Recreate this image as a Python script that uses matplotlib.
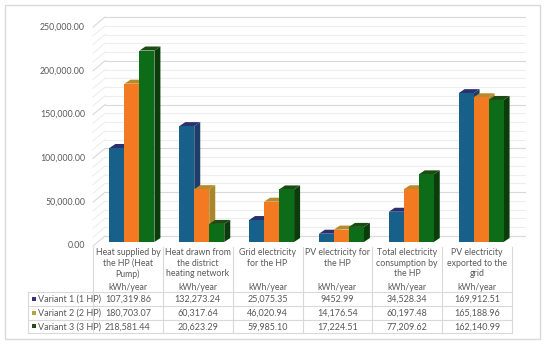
import matplotlib.pyplot as plt
from matplotlib.patches import Polygon, Rectangle

plt.rcParams['font.family'] = ['Lato', 'DejaVu Sans']

categories = ["Heat supplied by\nthe HP (Heat\nPump)",
              "Heat drawn from\nthe district\nheating network",
              "Grid electricity\nfor the HP",
              "PV electricity for\nthe HP",
              "Total electricity\nconsumption by\nthe HP",
              "PV electricity\nexported to the\ngrid"]
unit = "kWh/year"
series_names = ["Variant 1 (1 HP)", "Variant 2 (2 HP)", "Variant 3 (3 HP)"]
variant1 = [107319.86, 132273.24, 25075.35, 9452.99, 34528.34, 169912.51]
variant2 = [180703.07, 60317.64, 46020.94, 14176.54, 60197.48, 165188.96]
variant3 = [218581.44, 20623.29, 59985.10, 17224.51, 77209.62, 162140.99]
yticks = [0, 50000, 100000, 150000, 200000, 250000]

series = [variant1, variant2, variant3]
front_col = ['#176089', '#f47a22', '#0c6c18']
side_col = ['#1f3d6b', '#a8862a', '#0a3d0b']
top_col = ['#2b306e', '#b98a2c', '#1c4b14']
key_col = ['#3d2e7a', '#b8a33a', '#2a4a1e']
txt = '#595959'
grid_major = '#d9d9d9'
grid_minor = '#eeeeee'

W, H = 550, 347
fig = plt.figure(figsize=(5.5, 3.47), dpi=100)

# pixel scale of the plot
px_cat = (512 - 93) / 6.0
px_val = 0.876 / 1000.0
zero_px = 242
ax_bot, ax_top = 250, 10
ax = fig.add_axes([93 / W, 1 - ax_bot / H, (512 - 93) / W, (ax_bot - ax_top) / H])
ax.set_xlim(-0.5, 5.5)
ax.set_ylim(-(ax_bot - zero_px) / px_val, (zero_px - ax_top) / px_val)
ax.axis('off')

def dxp(p):
    return p / px_cat

def dyp(p):
    return p / px_val

# back wall, left wall gridlines (3D look)
back_x0, back_x1 = -0.5 + dxp(12), 5.5 + dxp(13)
back_dy, front_dy = dyp(6), dyp(-4)
for v in range(0, 250001, 10000):
    c = grid_major if v % 50000 == 0 else grid_minor
    ax.plot([back_x0, back_x1], [v + back_dy, v + back_dy], color=c, lw=0.8,
            zorder=1, clip_on=False)
    ax.plot([-0.5, back_x0], [v + front_dy, v + back_dy], color=c, lw=0.8,
            zorder=1, clip_on=False)

for v in yticks:
    ax.text(-0.5 - dxp(8), v + front_dy, f"{v:,.2f}", ha='right', va='center',
            fontsize=6.3, color=txt, clip_on=False)

# bars
bw = dxp(15)
ds, dh = dxp(6), dyp(4)
z = 2
for i in range(len(categories)):
    for s in range(3):
        x = i + dxp(4) + (s - 1) * bw
        v = series[s][i]
        xl, xr = x - bw / 2, x + bw / 2
        ax.add_patch(Polygon([(xr, 0), (xr + ds, dh), (xr + ds, v + dh), (xr, v)],
                             closed=True, fc=side_col[s], ec='none', zorder=z))
        ax.add_patch(Polygon([(xl, v), (xr, v), (xr + ds, v + dh), (xl + ds, v + dh)],
                             closed=True, fc=top_col[s], ec='none', zorder=z))
        ax.bar(x, v, width=bw, color=front_col[s], zorder=z + 0.5)
        z += 1

# data table in pixel coords
ov = fig.add_axes([0, 0, 1, 1])
ov.set_xlim(0, W)
ov.set_ylim(H, 0)
ov.axis('off')

col_edges = [93 + px_cat * k for k in range(7)]
row_lines = [292, 306, 319.5, 333]
for xe in col_edges:
    ov.plot([xe, xe], [247, 333], color=grid_major, lw=0.8)
ov.plot([28, 28], [292, 333], color=grid_major, lw=0.8)
for yl in row_lines:
    ov.plot([28, 512], [yl, yl], color=grid_major, lw=0.8)

for i, cat in enumerate(categories):
    cx = 93 + px_cat * (i + 0.5)
    ov.text(cx, 248, cat, ha='center', va='top', fontsize=6.3, color=txt,
            linespacing=1.22)
    ov.text(cx, 288, unit, ha='center', va='center', fontsize=6.3, color=txt)
    for s in range(3):
        v = series[s][i]
        lab = f"{v:,.2f}" if v >= 10000 else f"{v:.2f}"
        ov.text(cx, (row_lines[s] + row_lines[s + 1]) / 2 + 0.5, lab,
                ha='center', va='center', fontsize=6.5, color=txt)

for s in range(3):
    yc = (row_lines[s] + row_lines[s + 1]) / 2
    ov.add_patch(Rectangle((32, yc - 2.2), 4.4, 4.4, fc=key_col[s], ec='none'))
    ov.text(38.5, yc + 0.5, series_names[s], ha='left', va='center', fontsize=6.5,
            color=txt)

# outer frame
ov.add_patch(Rectangle((5, 5), 535, 334, fc='none', ec=grid_major, lw=1))

fig.savefig('out.png', dpi=100)
